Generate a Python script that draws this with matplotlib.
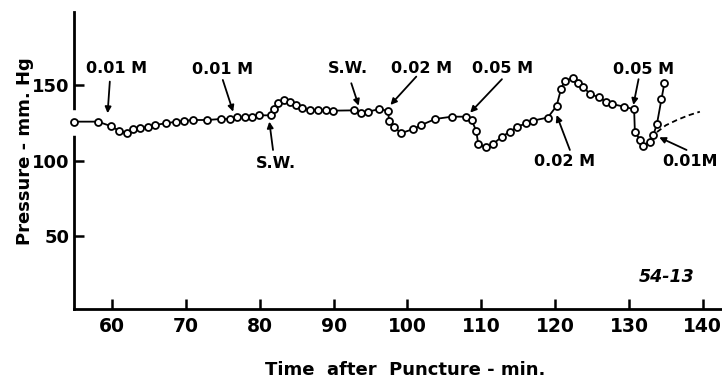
import matplotlib
matplotlib.use("Agg")
import matplotlib.pyplot as plt

# pressure record
time_min = [54.8, 58.1, 59.8, 60.9, 62.0, 62.8, 63.8, 64.9, 65.8, 67.3, 68.7, 69.8,
            70.9, 72.9, 74.8, 76.0, 76.9, 78.0, 79.0, 79.9, 81.5, 82.0, 82.5, 83.3,
            84.1, 84.9, 85.7, 86.8, 87.9, 89.0, 89.9, 92.8, 93.7, 94.6, 96.1, 97.4,
            97.5, 98.2, 99.1, 100.8, 101.9, 103.8, 106.0, 107.9, 108.7, 109.3, 109.6,
            110.6, 111.6, 112.8, 113.9, 114.9, 116.1, 117.0, 119.0, 120.2, 120.8,
            121.3, 122.4, 123.1, 123.8, 124.7, 125.9, 126.9, 127.7, 129.3, 130.7,
            130.8, 131.5, 131.9, 132.8, 133.3, 133.8, 134.4, 134.8]
pressure = [125.9, 125.9, 123.0, 120.0, 118.2, 120.8, 121.5, 122.6, 123.7, 124.8, 125.9, 126.4,
            127.0, 127.0, 127.7, 127.7, 128.8, 128.8, 128.8, 130.1, 130.1, 134.1, 138.5, 140.3,
            139.2, 137.0, 134.8, 133.7, 133.7, 133.7, 133.2, 133.4, 131.9, 132.5, 134.1, 133.2,
            126.4, 122.6, 118.2, 121.0, 123.7, 127.7, 129.2, 129.2, 127.0, 119.9, 111.1,
            108.9, 111.1, 115.9, 119.3, 122.6, 124.8, 126.6, 128.6, 136.3, 147.6,
            153.1, 154.7, 151.4, 149.1, 144.3, 142.1, 139.2, 137.6, 135.9, 134.1,
            119.3, 113.7, 109.8, 112.6, 117.0, 124.6, 140.8, 151.4]

# dashed extrapolation after the last 0.01 M dose
dash_time = [133.8, 135.0, 136.5, 138.0, 139.6]
dash_pressure = [119.0, 123.5, 127.0, 130.0, 132.5]

# annotations: label, text position, arrow tail, arrow head
notes = [
    ("0.01 M", (60.6, 161.4), (59.7, 152.5), (59.4, 131.5)),
    ("0.01 M", (75.0, 160.2), (75.0, 153.6), (76.4, 132.5)),
    ("S.W.", (82.2, 98.3), (81.8, 107.1), (81.3, 125.9)),
    ("S.W.", (92.0, 161.4), (92.4, 151.4), (93.4, 136.5)),
    ("0.02 M", (101.9, 161.4), (101.2, 155.8), (97.7, 137.0)),
    ("0.05 M", (112.9, 161.4), (112.8, 154.1), (108.5, 131.9)),
    ("0.02 M", (121.3, 99.3), (122.0, 107.1), (120.2, 130.3)),
    ("0.05 M", (132.0, 160.7), (131.3, 154.1), (130.6, 137.0)),
    ("0.01M", (138.3, 99.3), (137.8, 107.1), (134.1, 115.5)),
]

x_ticks = [60, 70, 80, 90, 100, 110, 120, 130, 140]
y_ticks = [50, 100, 150]

plt.rcParams["font.family"] = "DejaVu Sans"
plt.rcParams["font.weight"] = "bold"

fig = plt.figure(figsize=(7.22, 3.79), dpi=100)
ax = fig.add_axes([0.1025, 0.1847, 0.8975, 0.7836])

ax.plot(time_min, pressure, "-o", color="black", lw=1.3, ms=5,
        mfc="white", mec="black", mew=1.3, clip_on=False, zorder=3)
ax.plot(dash_time, dash_pressure, "--", color="black", lw=1.3, dashes=(3, 2))

for label, txt, tail, head in notes:
    ax.text(txt[0], txt[1], label, ha="center", va="center",
            fontsize=11.5, fontweight="bold")
    ax.annotate("", xy=head, xytext=tail,
                arrowprops=dict(arrowstyle="-|>", color="black", lw=1.3,
                                mutation_scale=9, shrinkA=0, shrinkB=0))

ax.text(135.1, 22.8, "54-13", ha="center", va="center", fontsize=12.5,
        fontweight="bold", style="italic")

ax.set_xlim(54.85, 142.6)
ax.set_ylim(1.5, 198.7)
ax.set_xticks(x_ticks)
ax.set_yticks(y_ticks)
ax.tick_params(direction="in", length=7, width=1.8, labelsize=13.5)
ax.tick_params(axis="x", pad=6)
ax.tick_params(axis="y", pad=3, labelsize=13)
for lab in ax.get_xticklabels() + ax.get_yticklabels():
    lab.set_fontweight("bold")

ax.spines["top"].set_visible(False)
ax.spines["right"].set_visible(False)
ax.spines["bottom"].set_linewidth(2)
ax.spines["left"].set_linewidth(2)

# the left axis line is broken where the trace starts
ax.plot([0, 0], [118.4, 131.6], transform=ax.get_yaxis_transform(),
        color="white", lw=4, zorder=2.6, clip_on=False)

fig.text(0.561, 1 - 370 / 379, "Time  after  Puncture - min.", ha="center",
         va="center", fontsize=13, fontweight="bold")
fig.text(25 / 722, 1 - 151 / 379, "Pressure - mm. Hg", ha="center", va="center",
         rotation=90, fontsize=13, fontweight="bold")

fig.savefig("out.png", dpi=100)
